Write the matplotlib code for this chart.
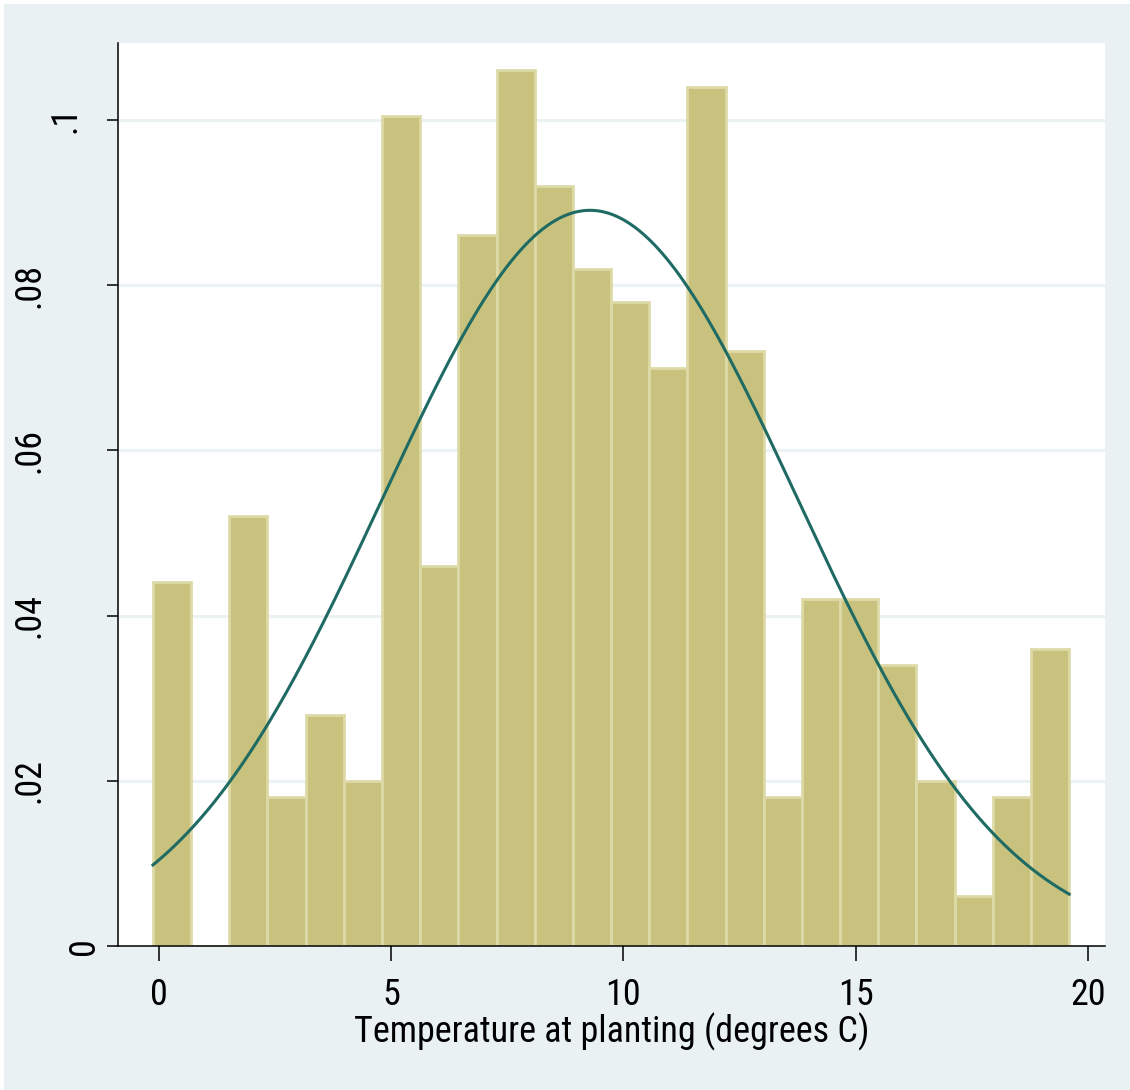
import numpy as np
import matplotlib
matplotlib.use("Agg")
import matplotlib.pyplot as plt
from matplotlib.patches import Rectangle
from matplotlib.transforms import blended_transform_factory, ScaledTranslation

plt.rcParams['font.family'] = ['Roboto Condensed', 'Liberation Sans', 'DejaVu Sans']

# histogram data (density per bin)
bin_start = -0.13
bin_width = 0.822
densities = [0.044, 0.0, 0.052, 0.018, 0.028, 0.020, 0.1005, 0.046,
             0.086, 0.106, 0.092, 0.082, 0.078, 0.070, 0.104, 0.072,
             0.018, 0.042, 0.042, 0.034, 0.020, 0.006, 0.018, 0.036]

# normal overlay parameters
curve_mean = 9.28
curve_sd = 4.48

xticks = [0, 5, 10, 15, 20]
yticks = [0, 0.02, 0.04, 0.06, 0.08, 0.1]
ytick_labels = ["0", ".02", ".04", ".06", ".08", ".1"]
xlabel = "Temperature at planting (degrees C)"

outer_bg = "#E9F1F2"
bar_fill = "#C9C27E"
bar_edge = "#DEDAA8"
line_col = "#1F6B63"

fig = plt.figure(figsize=(11.3, 10.9), dpi=100, facecolor="white")
fig.patches.append(Rectangle((4 / 1130, 0), 1, 1 - 4 / 1090, transform=fig.transFigure,
                             facecolor=outer_bg, edgecolor="none", zorder=-10))

ax = fig.add_axes([118 / 1130, (1090 - 946) / 1090, (1105 - 118) / 1130, (946 - 43) / 1090])
ax.set_facecolor("white")

# grid lines
for yv in yticks[1:]:
    ax.axhline(yv, color="#EAF2F3", lw=2.2, zorder=0)

# bars
lefts = bin_start + bin_width * np.arange(len(densities))
ax.bar(lefts, densities, width=bin_width, align="edge", color=bar_fill,
       edgecolor=bar_edge, linewidth=2, zorder=2)

# normal density curve
xs = np.linspace(bin_start, bin_start + bin_width * len(densities), 400)
ys = np.exp(-0.5 * ((xs - curve_mean) / curve_sd) ** 2) / (curve_sd * np.sqrt(2 * np.pi))
ax.plot(xs, ys, color=line_col, lw=2.2, zorder=3)

ax.set_xlim(-0.883, 20.37)
ax.set_ylim(0, 0.1093)

for s in ["top", "right"]:
    ax.spines[s].set_visible(False)
for s in ["left", "bottom"]:
    ax.spines[s].set_linewidth(1.1)
    ax.spines[s].set_zorder(4)

ax.set_xticks(xticks)
ax.set_xticklabels([str(v) for v in xticks], fontsize=26)
ax.tick_params(axis="x", length=11, width=1.1, pad=11)
ax.set_yticks(yticks)
ax.set_yticklabels([])
ax.tick_params(axis="y", length=8, width=1.1)

# rotated y labels, Stata style: wider labels sit further from the axis
trans = blended_transform_factory(ax.transAxes, ax.transData)
for yv, lab in zip(yticks, ytick_labels):
    adv = sum(0.5 if c == "." else 1.0 for c in lab)
    gap = 16 + 36 * (adv - 1)
    off = ScaledTranslation(-gap / 100, 0, fig.dpi_scale_trans)
    ax.text(0, yv, lab, transform=trans + off, rotation=90, ha="right", va="center",
            fontsize=26)

ax.set_xlabel(xlabel, fontsize=26, labelpad=0)

fig.savefig("out.png", dpi=100, facecolor=fig.get_facecolor())
